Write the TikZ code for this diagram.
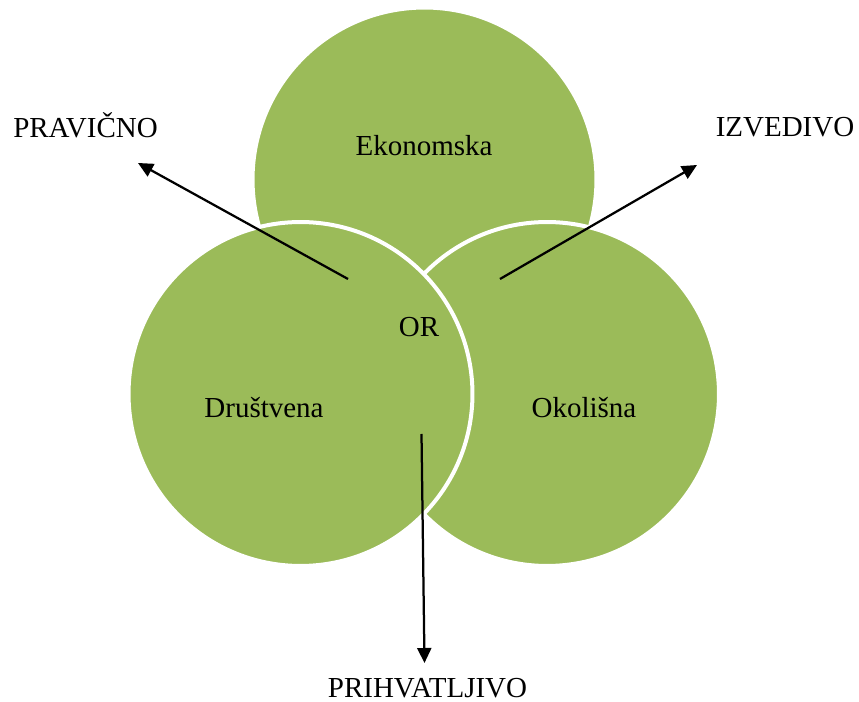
\documentclass[tikz,border=0pt]{standalone}
\usepackage{fontspec}
\setmainfont{Liberation Serif}
\usetikzlibrary{arrows.meta}
\definecolor{krugzelena}{HTML}{9BBB59}

\begin{document}
\begin{tikzpicture}[x=0.02cm,y=-0.02cm,
        oznaka/.style={anchor=base,inner sep=0pt,font=\fontsize{16.5}{20}\selectfont},
        strelica/.style={line width=0.045cm,-{Triangle[length=0.3cm,width=0.28cm]}}]
            \useasboundingbox (0,0) rectangle (859,702);
            % krugovi: gornji, desni, lijevi
            \foreach \cx/\cy in {424.5/179.5,547/394,300.5/394}{
                \filldraw[fill=krugzelena,draw=white,line width=0.08cm] (\cx,\cy) circle (3.44cm);
            }
            \node[oznaka] (ekon) at (424,156) {Ekonomska};
            \node[oznaka] (or) at (419,337) {OR};
            \node[oznaka] (drus) at (264,418) {Društvena};
            \node[oznaka] (okol) at (584,418) {Okolišna};
            \node[oznaka] (prav) at (85.5,138) {PRAVIČNO};
            \node[oznaka] (izve) at (785,137) {IZVEDIVO};
            \node[oznaka] (prih) at (427.5,697) {PRIHVATLJIVO};
            \coordinate (pravS) at (348,279);
            \coordinate (pravT) at (138,163);
            \coordinate (izveS) at (500,279);
            \coordinate (izveT) at (697,165);
            \coordinate (prihS) at (421.5,434);
            \coordinate (prihT) at (424.5,663);
            \draw[strelica] (pravS) -- (pravT);
            \draw[strelica] (izveS) -- (izveT);
            \draw[strelica] (prihS) -- (prihT);
        \end{tikzpicture}
\end{document}
